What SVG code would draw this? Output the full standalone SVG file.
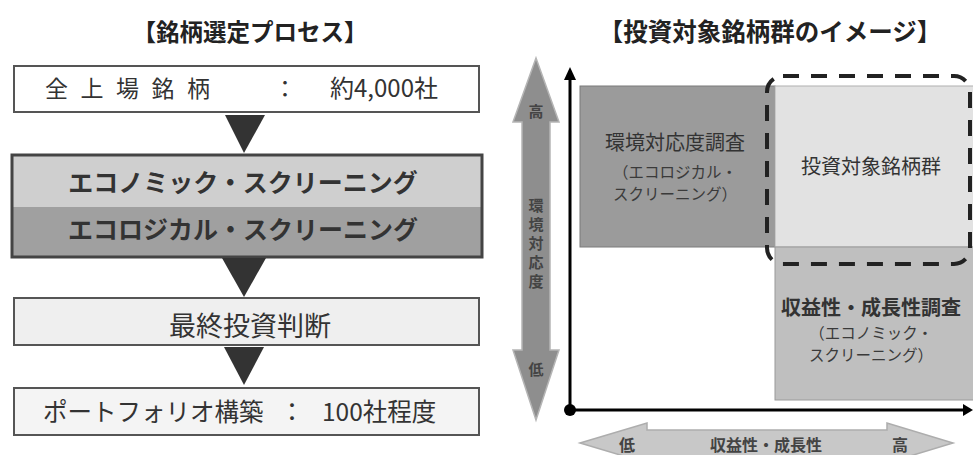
<svg xmlns="http://www.w3.org/2000/svg" width="973" height="455" viewBox="0 0 973 455">
<style>
text{font-family:"Noto Sans CJK JP","Noto Sans",sans-serif;fill:#333}
.title{font-size:23.5px;font-weight:bold;fill:#222;text-anchor:middle}
.box{stroke:#555;stroke-width:2}
.tri{fill:#333}
.lbl{font-size:15.5px;text-anchor:middle;fill:#3a3a3a}
.head{font-size:20px;text-anchor:middle;fill:#333}
.ax{font-size:15px;text-anchor:middle;fill:#444;font-weight:bold}
.hx{font-size:16px;text-anchor:middle;fill:#444;font-weight:bold}
.vt{font-size:15px;text-anchor:middle;fill:#444;font-weight:bold}
</style>
<rect width="973" height="455" fill="#fff"/>
<g id="title-left"><text class="title" x="250" y="41">【銘柄選定プロセス】</text></g>
<g id="title-right"><text class="title" x="770" y="41" style="font-size:24.5px">【投資対象銘柄群のイメージ】</text></g>

<g id="step1">
<rect class="box" x="14" y="66" width="465" height="46" fill="#fff"/>
<text x="45" y="97" font-size="23" letter-spacing="12.5">全上場銘柄</text>
<text x="285" y="97" font-size="23" text-anchor="middle">：</text>
<text x="330" y="97" font-size="24">約4,000社</text>
</g>
<g id="step2">
<rect x="12" y="155" width="470" height="52" fill="#cfcfcf"/>
<rect x="12" y="207" width="470" height="50" fill="#a0a0a0"/>
<rect x="12" y="155" width="470" height="102" fill="none" stroke="#444" stroke-width="3"/>
<text x="243" y="192" font-size="25" font-weight="bold" text-anchor="middle">エコノミック・スクリーニング</text>
<text x="243" y="239" font-size="25" font-weight="bold" text-anchor="middle">エコロジカル・スクリーニング</text>
</g>
<g id="step3">
<rect class="box" x="14" y="298" width="465" height="47" fill="#efefef"/>
<text x="250" y="336" font-size="27" text-anchor="middle">最終投資判断</text>
</g>
<g id="step4">
<rect class="box" x="14" y="388" width="465" height="47" fill="#f4f4f4"/>
<text x="43" y="421" font-size="24.5">ポートフォリオ構築</text>
<text x="292" y="421" font-size="24.5" text-anchor="middle">：</text>
<text x="322" y="421" font-size="24.5">100社程度</text>
</g>
<g id="connectors">
<polygon class="tri" points="225,115 265,115 244,153"/>
<polygon class="tri" points="222,258 266,258 244,297"/>
<polygon class="tri" points="224,347 264,347 244,385"/>
</g>

<g id="axis-vertical-arrow">
<polygon points="536,58 559,122 550,122 550,350 559,350 536,420 513,350 522,350 522,122 513,122" fill="#8e8e8e" stroke="#b5b5b5" stroke-width="1.5"/>
<text class="ax" x="536" y="117">高</text>
<text class="vt" x="536" y="211">環</text>
<text class="vt" x="536" y="230">境</text>
<text class="vt" x="536" y="249">対</text>
<text class="vt" x="536" y="268">応</text>
<text class="vt" x="536" y="287">度</text>
<text class="ax" x="536" y="375">低</text>
</g>
<g id="axis-horizontal-arrow">
<polygon points="580,443 647,423 647,430 887,430 887,423 953,443 887,463 887,456 647,456 647,463" fill="#c8c8c8" stroke="#adadad" stroke-width="1.5"/>
<text class="hx" x="627" y="451">低</text>
<text class="hx" x="766" y="451">収益性・成長性</text>
<text class="hx" x="900" y="451">高</text>
</g>

<g id="quadrant-eco">
<rect x="580" y="86" width="195" height="161" fill="#9b9b9b" stroke="#7a7a7a" stroke-width="1"/>
<text class="head" x="675" y="150">環境対応度調査</text>
<text class="lbl" x="675" y="177.5">（エコロジカル・</text>
<text class="lbl" x="675" y="200">スクリーニング）</text>
</g>
<g id="quadrant-target">
<rect x="775" y="86" width="200" height="161" fill="#e2e2e2" stroke="#b0b0b0" stroke-width="1"/>
<text class="head" x="871" y="174">投資対象銘柄群</text>
</g>
<g id="quadrant-econ">
<rect x="775" y="247" width="200" height="153" fill="#bfbfbf" stroke="#9a9a9a" stroke-width="1"/>
<text class="head" x="871" y="315" style="font-weight:bold">収益性・成長性調査</text>
<text class="lbl" x="871" y="338.5">（エコノミック・</text>
<text class="lbl" x="871" y="361">スクリーニング）</text>
</g>
<g id="target-outline">
<rect x="767" y="76" width="203" height="188" rx="16" fill="none" stroke="#222" stroke-width="4" stroke-dasharray="16 12"/>
</g>

<g id="axes">
<line x1="570" y1="78" x2="570" y2="410" stroke="#000" stroke-width="3"/>
<polygon points="570,67 576,80 564,80" fill="#000"/>
<line x1="570" y1="410" x2="966" y2="410" stroke="#000" stroke-width="3"/>
<polygon points="973,410 963,404 963,416" fill="#000"/>
<circle cx="570" cy="410" r="6" fill="#000"/>
</g>
</svg>
